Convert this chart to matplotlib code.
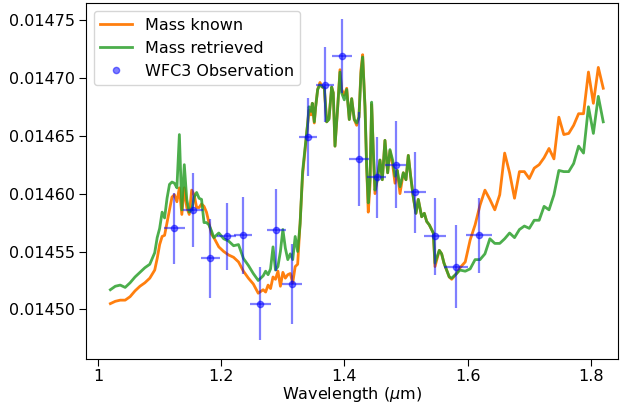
import matplotlib
matplotlib.use("Agg")
import matplotlib.pyplot as plt
import numpy as np

# model wavelength grid (um), finer where the spectrum is spiky
wavelength = [
    1.020, 1.028, 1.036, 1.044, 1.052, 1.060, 1.068, 1.076, 1.084,
    1.092, 1.096, 1.100, 1.104, 1.108, 1.112, 1.116, 1.120, 1.124, 1.128,
    1.132, 1.136, 1.140, 1.144, 1.148, 1.152, 1.156, 1.160, 1.164, 1.168,
    1.172, 1.176, 1.180, 1.184, 1.188,
    1.196, 1.204, 1.212, 1.220, 1.228, 1.236, 1.244, 1.252, 1.260,
    1.268, 1.272, 1.276, 1.280, 1.284, 1.288, 1.292, 1.296, 1.300, 1.304,
    1.308, 1.312, 1.316, 1.320, 1.324, 1.328, 1.332,
    1.3403, 1.3424, 1.3456, 1.3478, 1.3510, 1.3532, 1.3565, 1.3602, 1.3640, 1.3672,
    1.3711, 1.3748, 1.3792, 1.3818, 1.3846, 1.3890, 1.3927, 1.3954, 1.3997, 1.4036,
    1.4078, 1.4117, 1.4159, 1.4198, 1.4235, 1.4268, 1.4295, 1.4333, 1.4360, 1.4386,
    1.4414, 1.4441, 1.4467, 1.4495, 1.4532, 1.4576, 1.4614, 1.4657, 1.4701, 1.4738,
    1.4782, 1.4820, 1.4857, 1.4901, 1.4955, 1.4998, 1.5036, 1.5074, 1.5117, 1.5160,
    1.5198, 1.5253, 1.5296, 1.5334, 1.5377, 1.5415, 1.5442, 1.5469, 1.5539, 1.5577,
    1.5615, 1.5658, 1.5701, 1.5740, 1.5820, 1.5875,
    1.596, 1.604, 1.612, 1.620, 1.628, 1.636, 1.644, 1.652, 1.660, 1.668,
    1.676, 1.684, 1.692, 1.700, 1.708, 1.716, 1.724, 1.732, 1.740, 1.748,
    1.756, 1.764, 1.772, 1.780, 1.788, 1.796, 1.804, 1.812, 1.820,
]

# transit depth in ppm
depth_known = [
    14505, 14507, 14508, 14508, 14511, 14516, 14520, 14523, 14527,
    14534, 14544, 14556, 14563, 14564, 14575, 14586, 14597, 14599, 14593,
    14605, 14582, 14605, 14588, 14582, 14603, 14599, 14588, 14588, 14591,
    14589, 14584, 14575, 14565, 14562,
    14554, 14550, 14547, 14545, 14541, 14533, 14527, 14522, 14514,
    14517, 14515, 14521, 14518, 14528, 14526, 14533, 14520, 14532, 14527,
    14530, 14531, 14523, 14537, 14539, 14575, 14616,
    14661, 14672, 14668, 14678, 14661, 14675, 14690, 14696, 14692, 14691,
    14662, 14665, 14692, 14687, 14641, 14675, 14707, 14690, 14685, 14691,
    14664, 14682, 14664, 14659, 14666, 14707, 14720, 14675, 14623, 14584,
    14607, 14677, 14638, 14600, 14612, 14629, 14612, 14646, 14618, 14637,
    14625, 14609, 14620, 14600, 14618, 14612, 14633, 14615, 14597, 14583,
    14595, 14580, 14583, 14576, 14573, 14569, 14566, 14537, 14551, 14548,
    14540, 14534, 14528, 14526, 14531, 14536,
    14541, 14560, 14573, 14590, 14603, 14595, 14586, 14599, 14635, 14618,
    14596, 14619, 14619, 14613, 14622, 14625, 14631, 14639, 14630, 14666,
    14651, 14652, 14659, 14669, 14669, 14705, 14678, 14709, 14691,
]

depth_retrieved = [
    14517, 14520, 14521, 14519, 14523, 14528, 14532, 14536, 14539,
    14549, 14562, 14570, 14584, 14579, 14596, 14608, 14610, 14609, 14605,
    14651, 14586, 14625, 14595, 14584, 14586, 14597, 14601, 14596, 14595,
    14575, 14575, 14573, 14568, 14562,
    14566, 14561, 14559, 14555, 14556, 14544, 14538, 14531, 14525,
    14529, 14533, 14530, 14535, 14554, 14534, 14537, 14550, 14569, 14553,
    14543, 14548, 14543, 14563, 14550, 14574, 14619,
    14661, 14675, 14671, 14678, 14662, 14675, 14690, 14694, 14692, 14692,
    14662, 14664, 14692, 14687, 14641, 14675, 14705, 14687, 14681, 14690,
    14664, 14682, 14664, 14661, 14666, 14704, 14718, 14675, 14623, 14592,
    14612, 14679, 14638, 14603, 14612, 14629, 14612, 14646, 14618, 14638,
    14629, 14615, 14620, 14606, 14618, 14612, 14633, 14615, 14597, 14583,
    14595, 14580, 14583, 14576, 14573, 14569, 14566, 14540, 14551, 14548,
    14540, 14534, 14528, 14527, 14531, 14534,
    14533, 14535, 14543, 14543, 14548, 14561, 14557, 14557, 14561, 14566,
    14562, 14569, 14572, 14570, 14577, 14577, 14589, 14586, 14599, 14620,
    14619, 14619, 14626, 14641, 14635, 14675, 14652, 14684, 14662,
]

# WFC3 data
obs_wl = [1.124, 1.154, 1.182, 1.209, 1.236, 1.263, 1.289, 1.315, 1.341,
          1.368, 1.396, 1.424, 1.452, 1.483, 1.514, 1.547, 1.581, 1.619]
obs_wl_err = [0.017, 0.016, 0.0155, 0.0155, 0.0147, 0.017, 0.0155, 0.016, 0.015,
              0.015, 0.0157, 0.016, 0.0162, 0.017, 0.018, 0.0184, 0.019, 0.021]
obs_depth = [14570, 14586, 14544, 14563, 14564, 14505, 14569, 14522, 14649,
             14694, 14719, 14630, 14614, 14625, 14601, 14563, 14537, 14564]
obs_err = [30.5, 32, 34, 29, 33, 31.4, 35.4, 34.6, 33.7,
           32.4, 32, 40.6, 35, 37.8, 35, 33, 35.7, 32.4]

plt.rcParams['font.size'] = 11.5

fig = plt.figure(figsize=(6.23, 4.07), dpi=100)
ax = fig.add_axes([0.1376, 0.118, 0.8544, 0.874])

ax.plot(wavelength, np.array(depth_known) / 1e6, color='#ff7f0e', lw=2, label='Mass known')
ax.plot(wavelength, np.array(depth_retrieved) / 1e6, color='#2ca02c', lw=2, alpha=0.85,
        label='Mass retrieved')
ax.errorbar(obs_wl, np.array(obs_depth) / 1e6, yerr=np.array(obs_err) / 1e6,
            xerr=obs_wl_err, fmt='none', ecolor='blue', elinewidth=1.6, alpha=0.5)
ax.plot(obs_wl, np.array(obs_depth) / 1e6, 'o', color='blue', ms=4.5, alpha=0.5,
        label='WFC3 Observation')

ax.set_xlim(0.98, 1.844)
ax.set_ylim(0.0144572, 0.0147644)
ax.set_xticks([1.0, 1.2, 1.4, 1.6, 1.8])
ax.set_xticklabels(['1', '1.2', '1.4', '1.6', '1.8'])
ax.set_yticks([0.0145, 0.01455, 0.0146, 0.01465, 0.0147, 0.01475])
ax.set_yticklabels(['0.01450', '0.01455', '0.01460', '0.01465', '0.01470', '0.01475'])
ax.tick_params(length=5, pad=2.5)
ax.set_xlabel(r'Wavelength ($\mu$m)', labelpad=0.5)
ax.legend(loc='upper left')

fig.savefig('out.png', dpi=100)
